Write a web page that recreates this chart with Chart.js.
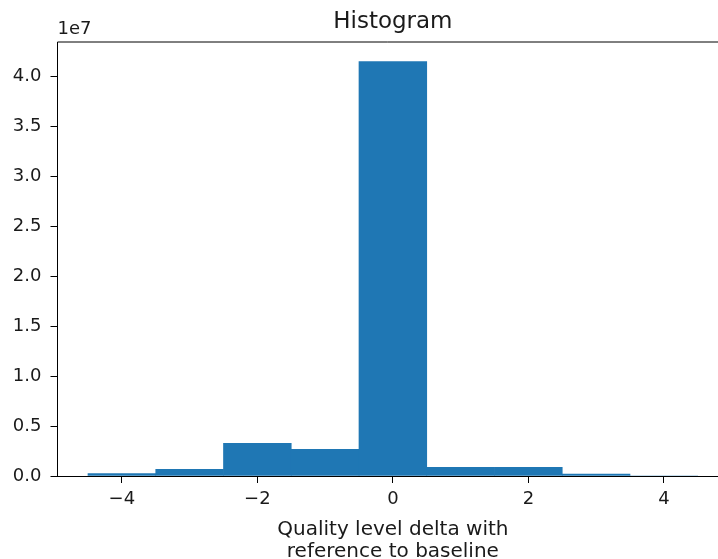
<!DOCTYPE html>
<html>
<head>
<meta charset="utf-8">
<script src="https://cdn.jsdelivr.net/npm/chart.js@4/dist/chart.umd.min.js"></script>
<style>
  html, body { margin: 0; padding: 0; background: #fff; }
  #wrap { width: 718px; height: 559px; }
</style>
</head>
<body>
<div id="wrap"><canvas id="hist" width="718" height="559"></canvas></div>
<script>
// histogram bins (centres, width 1) and counts
const binCenters = [-4, -3, -2, -1, 0, 1, 2, 3, 4];
const binCounts = [230000, 670000, 3270000, 2670000, 41450000, 870000, 870000, 200000, 0];
const xTickValues = [-4, -2, 0, 2, 4];
const yTickValues = [0, 5e6, 1e7, 1.5e7, 2e7, 2.5e7, 3e7, 3.5e7, 4e7];
const titleText = 'Histogram';
const xLabelLines = ['Quality level delta with', 'reference to baseline'];
const offsetText = '1e7';

const FONT = "'DejaVu Sans', sans-serif";
const TEXT = '#1a1a1a';
const BLUE = '#1f77b4';

// spines, title, offset text and the two-line x label, drawn matplotlib-style
const decorations = {
  id: 'decorations',
  afterDraw(chart) {
    const { ctx, chartArea: a, scales } = chart;
    ctx.save();
    ctx.strokeStyle = '#000';
    ctx.lineWidth = 1;
    ctx.beginPath();
    ctx.moveTo(a.left, a.bottom);
    ctx.lineTo(a.left, a.top + 0.5);
    ctx.lineTo(a.right, a.top + 0.5);
    ctx.stroke();

    const mid = scales.x.getPixelForValue(0);
    ctx.fillStyle = TEXT;
    ctx.textBaseline = 'alphabetic';
    ctx.textAlign = 'center';
    ctx.font = '23px ' + FONT;
    ctx.fillText(titleText, mid, 27.5);

    ctx.font = '20px ' + FONT;
    xLabelLines.forEach((line, i) => ctx.fillText(line, mid, 535 + i * 22));

    ctx.textAlign = 'left';
    ctx.font = '18px ' + FONT;
    ctx.fillText(offsetText, a.left, 33.5);
    ctx.restore();
  }
};

new Chart(document.getElementById('hist'), {
  type: 'bar',
  data: {
    datasets: [{
      data: binCenters.map((c, i) => ({ x: c, y: binCounts[i] })),
      backgroundColor: BLUE,
      borderWidth: 0,
      barPercentage: 1,
      categoryPercentage: 1
    }]
  },
  options: {
    responsive: false,
    animation: false,
    layout: { padding: { top: 41.5, right: 0, left: 0, bottom: 0 } },
    plugins: { legend: { display: false }, tooltip: { enabled: false }, title: { display: false } },
    scales: {
      x: {
        type: 'linear',
        min: -4.95,
        max: 4.799,
        offset: false,
        afterFit: s => { s.height = 83; },
        afterBuildTicks: s => { s.ticks = xTickValues.map(v => ({ value: v })); },
        grid: { offset: false, drawOnChartArea: false, tickLength: 7, tickColor: '#000', color: '#000' },
        border: { display: true, color: '#000', width: 1 },
        ticks: {
          color: TEXT,
          font: { family: FONT, size: 18 },
          padding: 6,
          maxRotation: 0,
          autoSkip: false,
          callback: v => (v < 0 ? '\u2212' + Math.abs(v) : String(v))
        }
      },
      y: {
        min: 0,
        max: 43470000,
        afterFit: s => { s.width = 57.5; },
        afterBuildTicks: s => { s.ticks = yTickValues.map(v => ({ value: v })); },
        grid: { drawOnChartArea: false, tickLength: 7, tickColor: '#000', color: '#000' },
        border: { display: false },
        ticks: {
          color: TEXT,
          font: { family: FONT, size: 18 },
          padding: 9,
          autoSkip: false,
          callback: v => (v / 1e7).toFixed(1)
        }
      }
    }
  },
  plugins: [decorations]
});
</script>
</body>
</html>
